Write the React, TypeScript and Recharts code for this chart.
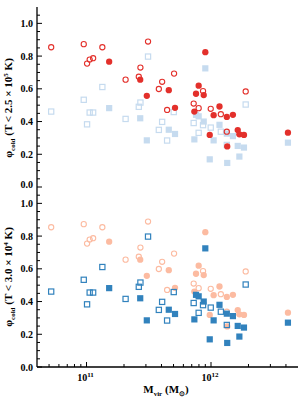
import React from 'react';
import { ScatterChart, Scatter, XAxis, YAxis } from 'recharts';

// halo mass (Msun) vs cold fraction
const openCircles: [number, number][] = [
  [5.2e10, 0.854], [9.5e10, 0.873], [1.01e11, 0.754], [1.06e11, 0.779], [1.13e11, 0.787],
  [1.34e11, 0.854], [2.06e11, 0.656], [2.63e11, 0.674], [2.71e11, 0.73], [3.12e11, 0.889],
  [3.81e11, 0.599], [4.05e11, 0.643], [5.05e11, 0.693], [4.44e11, 0.471], [7.26e11, 0.51],
  [7.96e11, 0.482], [8.63e11, 0.586], [9.95e11, 0.478], [1.2e12, 0.445], [1.34e12, 0.338],
  [1.9e12, 0.584],
];
const filledCircles: [number, number][] = [
  [1.52e11, 0.766], [2.7e11, 0.656], [3.05e11, 0.557], [4.58e11, 0.592], [5.14e11, 0.484],
  [7.35e11, 0.461], [7.58e11, 0.57], [7.96e11, 0.619], [8.74e11, 0.562], [9.0e11, 0.824],
  [9.77e11, 0.318], [1.05e12, 0.439], [1.17e12, 0.492], [1.34e12, 0.428], [1.35e12, 0.248],
  [1.5e12, 0.441], [1.64e12, 0.348], [1.69e12, 0.322], [1.84e12, 0.318], [4.15e12, 0.332],
];
const openSquares: [number, number][] = [
  [5.2e10, 0.461], [9.5e10, 0.533], [1.01e11, 0.383], [1.06e11, 0.455], [1.13e11, 0.455],
  [1.34e11, 0.611], [2.06e11, 0.416], [2.63e11, 0.49], [2.71e11, 0.516], [3.12e11, 0.797],
  [3.81e11, 0.349], [4.05e11, 0.398], [4.44e11, 0.284], [5.02e11, 0.458], [7.26e11, 0.391],
  [7.96e11, 0.331], [8.63e11, 0.378], [9.95e11, 0.363], [1.2e12, 0.338], [1.34e12, 0.257],
  [1.9e12, 0.504],
];
const filledSquares: [number, number][] = [
  [1.52e11, 0.482], [2.7e11, 0.42], [3.05e11, 0.285], [4.58e11, 0.35], [5.14e11, 0.324],
  [7.35e11, 0.291], [7.58e11, 0.441], [7.96e11, 0.432], [8.74e11, 0.4], [9.0e11, 0.725],
  [9.77e11, 0.169], [1.05e12, 0.285], [1.17e12, 0.38], [1.34e12, 0.326], [1.35e12, 0.147],
  [1.5e12, 0.311], [1.64e12, 0.251], [1.69e12, 0.186], [1.84e12, 0.241], [4.15e12, 0.271],
];

const massTicks = [
  5e10, 6e10, 7e10, 8e10, 9e10, 1e11, 2e11, 3e11, 4e11, 5e11, 6e11, 7e11, 8e11, 9e11,
  1e12, 2e12, 3e12, 4e12,
];
const phiTicks = [
  0, 0.05, 0.1, 0.15, 0.2, 0.25, 0.3, 0.35, 0.4, 0.45, 0.5, 0.55, 0.6, 0.65, 0.7, 0.75,
  0.8, 0.85, 0.9, 0.95, 1.0, 1.05,
];
const panelLabels = [
  { temp: '2.5', exp: '5' },
  { temp: '3.0', exp: '4' },
];

const RED = '#e3302b';
const LIGHT_BLUE = '#c6dbef';
const BLUE = '#3182bd';
const SALMON = '#fcbba1';
const FONT = '"Liberation Serif", "Times New Roman", serif';

const toPts = (arr: [number, number][]) => arr.map(([x, y]) => ({ x, y }));

const circleShape = (color: string, filled: boolean) => (p: any) =>
  filled ? (
    <circle cx={p.cx} cy={p.cy} r={3.15} fill={color} />
  ) : (
    <circle cx={p.cx} cy={p.cy} r={2.6} fill="none" stroke={color} strokeWidth={1.1} />
  );

const squareShape = (color: string, filled: boolean) => (p: any) =>
  filled ? (
    <rect x={p.cx - 3.1} y={p.cy - 3.1} width={6.2} height={6.2} fill={color} />
  ) : (
    <rect x={p.cx - 2.6} y={p.cy - 2.6} width={5.2} height={5.2} fill="none" stroke={color} strokeWidth={1.2} />
  );

const isMajorMass = (v: number) => Math.abs(Math.log10(v) - Math.round(Math.log10(v))) < 1e-6;
const isMajorPhi = (v: number) => Math.round(v * 100) % 20 === 0;

const XTick = ({ x, y, payload, side, showLabel }: any) => {
  const v = payload.value;
  const major = isMajorMass(v);
  const len = major ? 5 : 3;
  const dir = side === 'bottom' ? -1 : 1;
  return (
    <g>
      <line x1={x} y1={y} x2={x} y2={y + dir * len} stroke="#000" strokeWidth={1} />
      {showLabel && major && (
        <text x={x - 1} y={y + 14} textAnchor="middle" fontFamily={FONT} fontWeight="bold" fontSize={10} fill="#000">
          10<tspan dy={-4} fontSize={7}>{Math.round(Math.log10(v))}</tspan>
        </text>
      )}
    </g>
  );
};

const YTick = ({ x, y, payload, side, nudgeZero }: any) => {
  const v = payload.value;
  const major = isMajorPhi(v);
  const len = major ? 5 : 3;
  const dir = side === 'left' ? 1 : -1;
  const ly = nudgeZero && v === 0 ? y - 3 : y;
  return (
    <g>
      <line x1={x} y1={y} x2={x + dir * len} y2={y} stroke="#000" strokeWidth={1} />
      {side === 'left' && major && (
        <text x={x - 4} y={ly + 3.5} textAnchor="end" fontFamily={FONT} fontWeight="bold" fontSize={10} fill="#000">
          {v.toFixed(1)}
        </text>
      )}
    </g>
  );
};

const Panel = ({ bottom }: { bottom: boolean }) => {
  const circleColor = bottom ? SALMON : RED;
  const squareColor = bottom ? BLUE : LIGHT_BLUE;
  const circles = [
    <Scatter key="oc" data={toPts(openCircles)} shape={circleShape(circleColor, false)} isAnimationActive={false} />,
    <Scatter key="fc" data={toPts(filledCircles)} shape={circleShape(circleColor, true)} isAnimationActive={false} />,
  ];
  const squares = [
    <Scatter key="os" data={toPts(openSquares)} shape={squareShape(squareColor, false)} isAnimationActive={false} />,
    <Scatter key="fs" data={toPts(filledSquares)} shape={squareShape(squareColor, true)} isAnimationActive={false} />,
  ];
  const axisLine = { stroke: '#000', strokeWidth: 1.3 };
  return (
    <ScatterChart
      width={304}
      height={bottom ? 212 : 188}
      margin={bottom ? { top: 0, right: 6, bottom: 0, left: 0 } : { top: 7, right: 6, bottom: 1, left: 0 }}
    >
      <XAxis
        dataKey="x"
        type="number"
        scale="log"
        domain={[4e10, 5e12]}
        allowDataOverflow
        ticks={massTicks}
        interval={0}
        height={bottom ? 32 : 0}
        tickSize={0}
        tickMargin={0}
        tickLine={false}
        axisLine={axisLine}
        tick={<XTick side="bottom" showLabel={bottom} />}
      />
      <XAxis
        xAxisId="top"
        orientation="top"
        dataKey="x"
        type="number"
        scale="log"
        domain={[4e10, 5e12]}
        allowDataOverflow
        ticks={massTicks}
        interval={0}
        height={0}
        tickSize={0}
        tickMargin={0}
        tickLine={false}
        axisLine={axisLine}
        tick={<XTick side="top" showLabel={false} />}
      />
      <YAxis
        dataKey="y"
        type="number"
        domain={[0, 1.1]}
        allowDataOverflow
        ticks={phiTicks}
        interval={0}
        width={37}
        tickSize={0}
        tickMargin={0}
        tickLine={false}
        axisLine={axisLine}
        tick={<YTick side="left" nudgeZero={!bottom} />}
      />
      <YAxis
        yAxisId="right"
        orientation="right"
        dataKey="y"
        type="number"
        domain={[0, 1.1]}
        allowDataOverflow
        ticks={phiTicks}
        interval={0}
        width={0}
        tickSize={0}
        tickMargin={0}
        tickLine={false}
        axisLine={axisLine}
        tick={<YTick side="right" />}
      />
      {bottom ? circles : squares}
      {bottom ? squares : circles}
    </ScatterChart>
  );
};

const YTitle = ({ cy, temp, exp }: { cy: number; temp: string; exp: string }) => (
  <text
    transform={`translate(12,${cy}) rotate(-90)`}
    textAnchor="middle"
    fontFamily={FONT}
    fontWeight="bold"
    fontSize={11}
    fill="#000"
  >
    φ<tspan dy={2.5} fontSize={7}>cold</tspan>
    <tspan dy={-2.5}> (T &lt; {temp} × 10</tspan>
    <tspan dy={-4} fontSize={7}>{exp}</tspan>
    <tspan dy={4}> K)</tspan>
  </text>
);

export default function App() {
  return (
    <div style={{ position: 'absolute', left: 0, top: 0, width: 304, height: 399, background: '#fff' }}>
      <div style={{ position: 'absolute', left: 0, top: 0 }}>
        <Panel bottom={false} />
      </div>
      <div style={{ position: 'absolute', left: 0, top: 187 }}>
        <Panel bottom={true} />
      </div>
      <svg width={304} height={399} style={{ position: 'absolute', left: 0, top: 0, pointerEvents: 'none' }}>
        <YTitle cy={108} temp={panelLabels[0].temp} exp={panelLabels[0].exp} />
        <YTitle cy={277} temp={panelLabels[1].temp} exp={panelLabels[1].exp} />
        <text x={166} y={393} textAnchor="middle" fontFamily={FONT} fontWeight="bold" fontSize={11} fill="#000">
          M<tspan dy={2.5} fontSize={7}>vir</tspan>
          <tspan dy={-2.5}> (M</tspan>
          <tspan dy={2.5} fontSize={7}>⊙</tspan>
          <tspan dy={-2.5}>)</tspan>
        </text>
      </svg>
    </div>
  );
}
